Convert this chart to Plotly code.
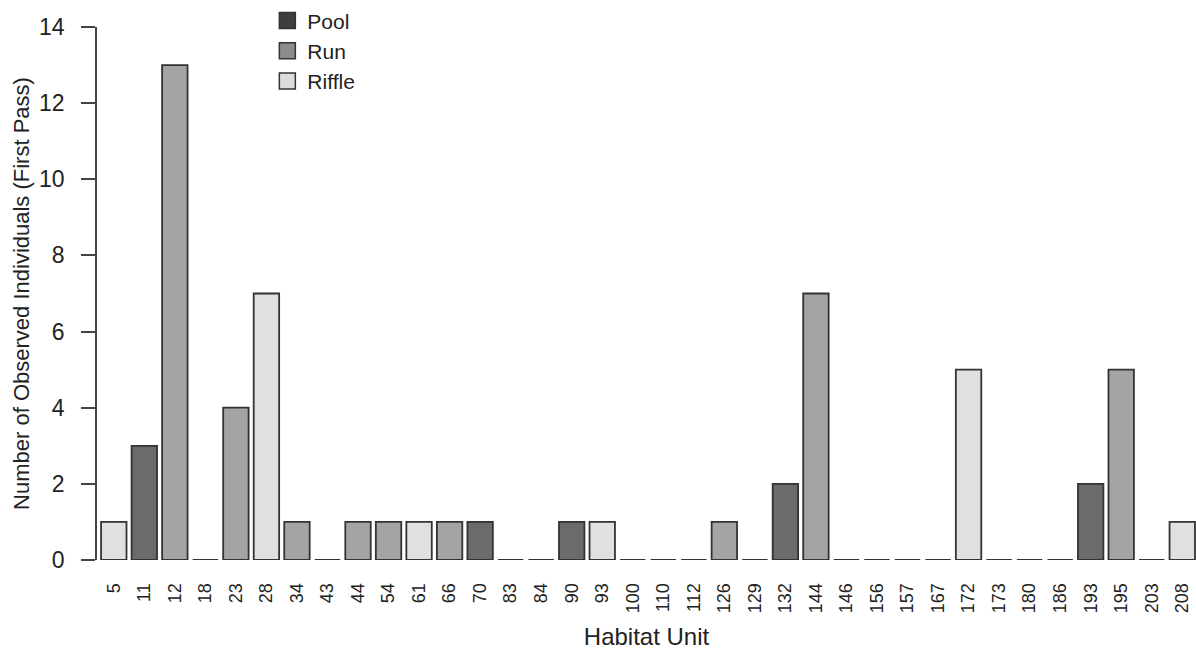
import plotly.graph_objects as go

units = ["5", "11", "12", "18", "23", "28", "34", "43", "44", "54", "61", "66",
         "70", "83", "84", "90", "93", "100", "110", "112", "126", "129", "132",
         "144", "146", "156", "157", "167", "172", "173", "180", "186", "193",
         "195", "203", "208"]
counts = [1, 3, 13, 0, 4, 7, 1, 0, 1, 1, 1, 1,
          1, 0, 0, 1, 1, 0, 0, 0, 1, 0, 2,
          7, 0, 0, 0, 0, 5, 0, 0, 0, 2,
          5, 0, 1]
habitat = ["Riffle", "Pool", "Run", "", "Run", "Riffle", "Run", "", "Run", "Run", "Riffle", "Run",
           "Pool", "", "", "Pool", "Riffle", "", "", "", "Run", "", "Pool",
           "Run", "", "", "", "", "Riffle", "", "", "", "Pool",
           "Run", "", "Riffle"]

bar_colors = {"Pool": "#6b6b6b", "Run": "#a4a4a4", "Riffle": "#e0e0e0", "": "#a4a4a4"}
legend_colors = {"Pool": "#3e3e3e", "Run": "#8c8c8c", "Riffle": "#dcdcdc"}
legend_order = ["Pool", "Run", "Riffle"]

fig = go.Figure()
fig.add_trace(go.Bar(
    x=units, y=counts,
    marker=dict(color=[bar_colors[h] for h in habitat],
                line=dict(color="#333333", width=1.8)),
    showlegend=False,
))
for name in legend_order:
    fig.add_trace(go.Scatter(
        x=[units[0]], y=[None], name=name, mode="markers",
        marker=dict(symbol="square", size=16, color=legend_colors[name],
                    line=dict(color="#333333", width=1.5)),
        showlegend=True,
    ))

fig.update_layout(
    width=1196, height=650,
    plot_bgcolor="white", paper_bgcolor="white",
    margin=dict(l=97, r=0, t=25, b=90),
    bargap=0.167, barmode="overlay",
    font=dict(family="Liberation Sans, Arial, sans-serif", color="#222222"),
    showlegend=True,
    legend=dict(x=0.155, y=1.05, xanchor="left", yanchor="top",
                font=dict(size=21, color="#222222"), bgcolor="rgba(0,0,0,0)",
                tracegroupgap=0, itemwidth=30, itemsizing="trace"),
    xaxis=dict(
        type="category", categoryorder="array", categoryarray=units,
        range=[-0.55, 35.45], showline=False, showgrid=False, zeroline=False,
        ticks="outside", ticklen=15, tickcolor="rgba(0,0,0,0)",
        tickangle=-90, tickfont=dict(size=18, color="#222222"),
        title=dict(text="Habitat Unit", font=dict(size=24, color="#222222"), standoff=16),
        automargin=False,
    ),
    yaxis=dict(
        range=[0, 14], tickvals=[0, 2, 4, 6, 8, 10, 12, 14],
        showline=True, linecolor="#444444", linewidth=1.5,
        ticks="outside", ticklen=14, tickwidth=1.5, tickcolor="#444444",
        ticklabelstandoff=12,
        showgrid=False, zeroline=False,
        tickfont=dict(size=23, color="#222222"),
        title=dict(text="Number of Observed Individuals (First Pass)",
                   font=dict(size=22, color="#222222"), standoff=3),
        automargin=False,
    ),
)

fig.write_html("out.html", config={"displayModeBar": False},
               post_script="document.body.style.margin='0';")
